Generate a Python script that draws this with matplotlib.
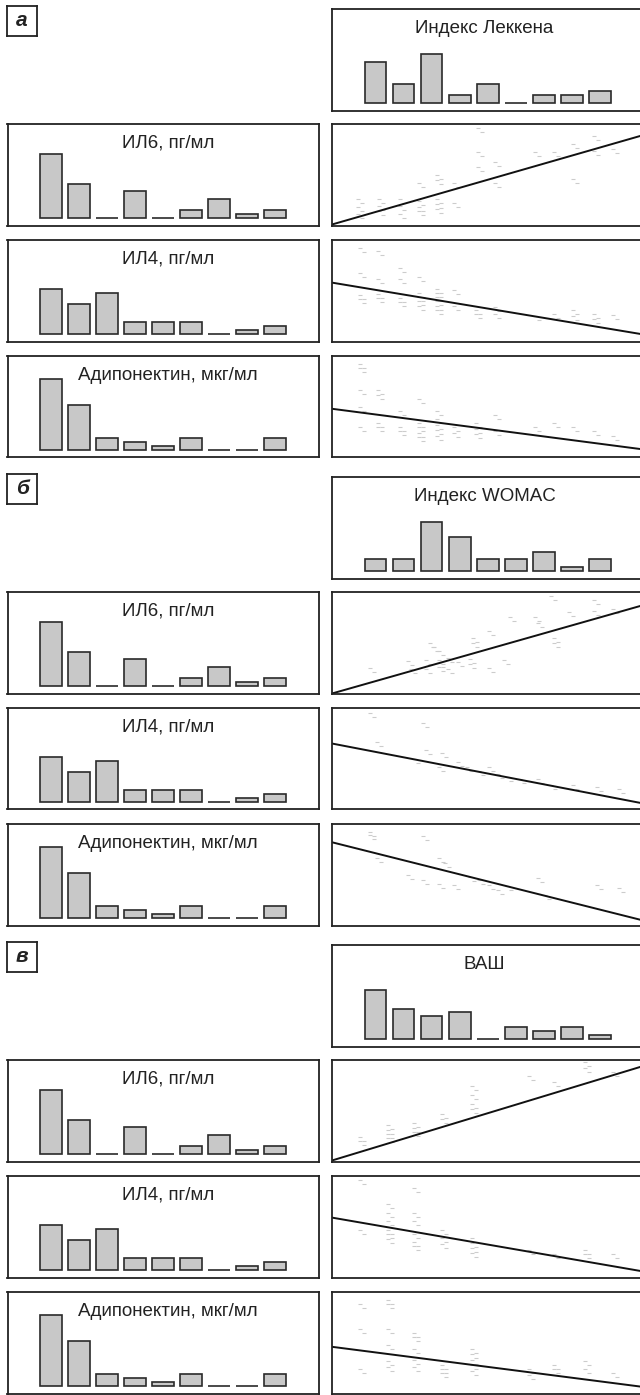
import matplotlib
matplotlib.use('Agg')
import matplotlib.pyplot as plt
from matplotlib.path import Path
import numpy as np

plt.rcParams['font.family'] = ['Liberation Sans', 'DejaVu Sans']

# ---------------- data ----------------
section_labels = ['а', 'б', 'в']
index_titles = ['Индекс Леккена', 'Индекс WOMAC', 'ВАШ']
marker_titles = ['ИЛ6, пг/мл', 'ИЛ4, пг/мл', 'Адипонектин, мкг/мл']

lequesne_counts = [11, 5, 13, 2, 5, 0, 2, 2, 3]
womac_counts = [3, 3, 13, 9, 3, 3, 5, 1, 3]
vas_counts = [13, 8, 6, 7, 0, 3, 2, 3, 1]
il6_counts = [17, 9, 0, 7, 0, 2, 5, 1, 2]
il4_counts = [12, 8, 11, 3, 3, 3, 0, 1, 2]
adipo_counts = [19, 12, 3, 2, 1, 3, 0, 0, 3]

# scatter values (relative scale 0-100 on both axes)
leq_il6_x = [9, 9, 9, 15.6, 15.6, 15.6, 22.6, 22.6, 22.6, 28.5, 28.5, 28.5, 28.5,
             34.4, 34.4, 34.4, 34.4, 34.4, 40, 40, 47.5, 47.5, 47.5, 53, 53, 66, 72,
             78, 78, 85, 85, 91]
leq_il6_y = [24, 16, 9, 24, 17, 12, 24, 17, 9, 40, 22, 16, 12,
             48, 43, 24, 19, 14, 40, 20, 94, 70, 56, 61, 40, 70, 70,
             78, 44, 86, 71, 73]
leq_il6_fit = [1, 89]

leq_il4_x = [9.7, 9.7, 9.7, 9.7, 15.4, 15.4, 15.4, 15.4, 22.4, 22.4, 22.4, 22.4,
             28.5, 28.5, 28.5, 28.5, 28.5, 34.4, 34.4, 34.4, 34.4, 34.4, 34.4,
             40, 40, 47, 47, 53, 53, 66, 72, 78, 78, 85, 85, 91]
leq_il4_y = [90, 66, 44, 40, 87, 60, 45, 41, 70, 60, 41, 37,
             62, 46, 42, 38, 33, 50, 46, 42, 38, 33, 29,
             49, 33, 29, 25, 32, 25, 23, 25, 29, 23, 25, 20, 24]
leq_il4_fit = [58, 7]

leq_adi_x = [9.7, 9.7, 9.7, 9.7, 9.7, 15.4, 15.4, 15.4, 15.4, 22.4, 22.4, 22.4,
             28.5, 28.5, 28.5, 28.5, 28.5, 34.4, 34.4, 34.4, 34.4, 34.4,
             40, 40, 47, 47, 47, 53, 53, 66, 72, 78, 85, 91]
leq_adi_y = [90, 86, 65, 48, 28, 65, 60, 32, 28, 44, 28, 24,
             56, 32, 28, 22, 18, 44, 36, 30, 25, 19,
             28, 22, 32, 26, 21, 40, 24, 28, 32, 28, 24, 19]
leq_adi_fit = [48, 8]

wom_il6_x = [13, 25, 26, 31, 31, 32, 33, 35, 35, 35, 35, 38, 38, 41, 45, 45, 46, 46,
             51, 51, 56, 58, 66, 67, 72, 72, 71, 77, 85, 85, 91]
wom_il6_y = [23, 30, 22, 31, 22, 48, 44, 40, 31, 28, 24, 33, 22, 29, 32, 27, 53, 48,
             60, 23, 31, 73, 73, 67, 53, 48, 94, 78, 90, 79, 81]
wom_il6_fit = [0, 87]

wom_il4_x = [13, 15, 27, 30, 31, 35, 36, 41, 44, 48, 51, 54, 57, 61, 67, 71, 78,
             86, 93]
wom_il4_y = [93, 65, 48, 83, 57, 40, 54, 45, 40, 36, 40, 33, 30, 28, 28, 22, 22,
             20, 18]
wom_il4_fit = [65, 6]

wom_adi_x = [13, 13, 15, 25, 30, 30, 35, 35, 37, 40, 45, 48, 51, 54, 57, 67, 69,
             86, 93]
wom_adi_y = [90, 87, 65, 48, 86, 43, 65, 39, 60, 38, 46, 43, 38, 33, 37, 45, 28,
             38, 35]
wom_adi_fit = [82, 5]

vas_il6_x = [9.7, 9.7, 18.8, 18.8, 18.8, 18.8, 27, 27, 27, 36, 36, 45.7, 45.7,
             45.7, 45.7, 64, 72, 82, 82, 91]
vas_il6_y = [22, 18, 34, 29, 25, 21, 36, 31, 27, 45, 40, 72, 64, 55, 50, 82, 76,
             96, 90, 86]
vas_il6_fit = [1, 94]

vas_il4_x = [9.7, 9.7, 18.8, 18.8, 18.8, 18.8, 18.8, 18.8, 27, 27, 27, 27, 27, 27,
             36, 36, 36, 45.7, 45.7, 45.7, 45.7, 64, 72, 82, 82, 91]
vas_il4_y = [94, 45, 70, 62, 54, 45, 41, 36, 86, 62, 54, 41, 33, 29,
             45, 37, 31, 37, 32, 27, 22, 25, 21, 25, 21, 21]
vas_il4_fit = [59, 6]

vas_adi_x = [9.7, 9.7, 9.7, 18.8, 18.8, 18.8, 18.8, 18.8, 18.8, 27, 27, 27, 27, 27,
             36, 36, 36, 45.7, 45.7, 45.7, 45.7, 45.7, 64, 64, 72, 72, 82, 82, 91]
vas_adi_y = [86, 62, 22, 90, 86, 62, 46, 30, 24, 58, 54, 42, 31, 24,
             26, 22, 18, 42, 37, 31, 26, 20, 22, 16, 26, 22, 30, 22, 18]
vas_adi_fit = [46, 6.5]

index_counts = [lequesne_counts, womac_counts, vas_counts]
marker_counts = [il6_counts, il4_counts, adipo_counts]
scatter_sets = [
    [(leq_il6_x, leq_il6_y, leq_il6_fit), (leq_il4_x, leq_il4_y, leq_il4_fit),
     (leq_adi_x, leq_adi_y, leq_adi_fit)],
    [(wom_il6_x, wom_il6_y, wom_il6_fit), (wom_il4_x, wom_il4_y, wom_il4_fit),
     (wom_adi_x, wom_adi_y, wom_adi_fit)],
    [(vas_il6_x, vas_il6_y, vas_il6_fit), (vas_il4_x, vas_il4_y, vas_il4_fit),
     (vas_adi_x, vas_adi_y, vas_adi_fit)],
]

# ---------------- layout ----------------
W, H = 640, 1395
fig = plt.figure(figsize=(W / 100, H / 100), dpi=100)

def ax_px(x0, y0, x1, y1):
    ax = fig.add_axes([x0 / W, 1 - y1 / H, (x1 - x0) / W, (y1 - y0) / H])
    ax.set_xticks([])
    ax.set_yticks([])
    for s in ax.spines.values():
        s.set_linewidth(1.3)
        s.set_color('#222222')
    return ax

# two short offset dashes (the point symbol)
dash_marker = Path([(-1.0, 0.45), (0.1, 0.45), (-0.1, -0.45), (1.0, -0.45)],
                   [Path.MOVETO, Path.LINETO, Path.MOVETO, Path.LINETO])

def draw_hist(ax, counts, title, tx):
    idx = np.arange(len(counts))
    ax.bar(idx, counts, width=0.78, color='#c8c8c8', edgecolor='#2a2a2a', linewidth=1.2)
    ax.set_xlim(-1.55, 9.54)
    ax.set_ylim(-2.13, 25.07)
    ax.text(tx, 0.81, title, transform=ax.transAxes, ha='center', va='center',
            fontsize=13.5, color='#222222')

def draw_scatter(ax, xs, ys, fit):
    ax.plot(xs, ys, linestyle='none', marker=dash_marker, markersize=6,
            markeredgecolor='#cccccc', markeredgewidth=0.8, markerfacecolor='none')
    ax.plot([0, 100], fit, color='#111111', lw=1.4)
    ax.set_xlim(0, 100)
    ax.set_ylim(0, 100)

section_tops = [9, 477, 945]
row_offsets = [0, 115, 231, 347]
box_h = 101.5
LX0, LX1 = 7.5, 318.5
RX0, RX1 = 332, 643

for s in range(3):
    top = section_tops[s]
    # section label
    lab = ax_px(7, top - 3, 37, top + 27)
    lab.text(0.5, 0.5, section_labels[s], transform=lab.transAxes, ha='center',
             va='center', fontsize=15, fontweight='bold', fontstyle='italic',
             color='#222222')
    # index histogram
    ax = ax_px(RX0, top, RX1, top + box_h)
    draw_hist(ax, index_counts[s], index_titles[s], 0.49)
    for r in range(3):
        y0 = top + row_offsets[r + 1]
        axl = ax_px(LX0, y0, LX1, y0 + box_h)
        draw_hist(axl, marker_counts[r], marker_titles[r], 0.517)
        axr = ax_px(RX0, y0, RX1, y0 + box_h)
        xs, ys, fit = scatter_sets[s][r]
        draw_scatter(axr, xs, ys, fit)

fig.savefig('out.png', dpi=100)
